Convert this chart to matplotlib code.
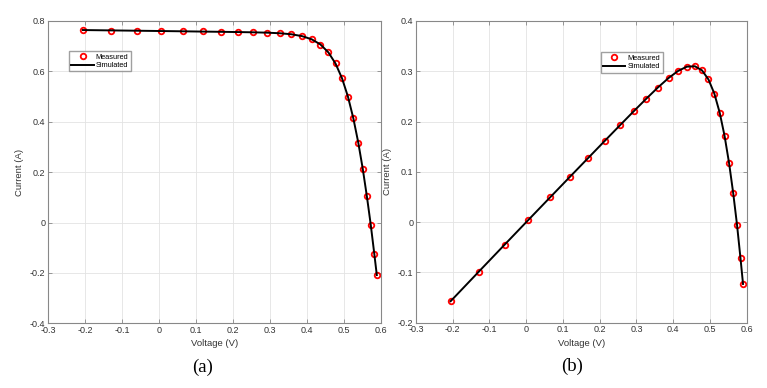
import matplotlib.pyplot as plt

plt.rcParams["font.family"] = ["Liberation Sans", "DejaVu Sans"]

voltage = [-0.2057, -0.1291, -0.0588, 0.0057, 0.0646, 0.1185, 0.1678, 0.2132,
           0.2545, 0.2924, 0.3269, 0.3585, 0.3873, 0.4137, 0.4373, 0.4590,
           0.4784, 0.4960, 0.5119, 0.5265, 0.5398, 0.5521, 0.5633, 0.5736,
           0.5833, 0.5900]
current_meas = [0.7640, 0.7620, 0.7605, 0.7605, 0.7600, 0.7590, 0.7570, 0.7570,
                0.7555, 0.7540, 0.7505, 0.7465, 0.7385, 0.7280, 0.7065, 0.6755,
                0.6320, 0.5730, 0.4990, 0.4130, 0.3165, 0.2120, 0.1035, -0.0100,
                -0.1230, -0.2100]
current_sim = [0.7641, 0.7627, 0.7614, 0.7602, 0.7591, 0.7580, 0.7571, 0.7561,
               0.7551, 0.7537, 0.7514, 0.7474, 0.7401, 0.7274, 0.7070, 0.6753,
               0.6308, 0.5720, 0.4996, 0.4136, 0.3175, 0.2121, 0.1022, -0.0087,
               -0.1255, -0.2084]

# panel (b) values
power_meas = [-0.1572, -0.0984, -0.0447, 0.0043, 0.0491, 0.0899, 0.1270, 0.1614,
              0.1923, 0.2205, 0.2453, 0.2676, 0.2860, 0.3012, 0.3090, 0.3101,
              0.3023, 0.2842, 0.2554, 0.2174, 0.1708, 0.1170, 0.0583, -0.0057,
              -0.0717, -0.1239]
power_sim = [-0.1572, -0.0985, -0.0448, 0.0043, 0.0490, 0.0898, 0.1270, 0.1612,
             0.1922, 0.2204, 0.2456, 0.2679, 0.2866, 0.3009, 0.3092, 0.3100,
             0.3018, 0.2837, 0.2557, 0.2178, 0.1714, 0.1171, 0.0576, -0.0050,
             -0.0732, -0.1230]

grey = "#888888"
txt = "#333333"

fig = plt.figure(figsize=(7.67, 3.88), dpi=100)
ax1 = fig.add_axes([48 / 767, 64.7 / 388, 332.5 / 767, 302.3 / 388])
ax2 = fig.add_axes([416 / 767, 65.3 / 388, 330.7 / 767, 301.7 / 388])


def style(ax, ylim, yticks):
    ax.set_xlim(-0.3, 0.6)
    ax.set_ylim(*ylim)
    ax.set_xticks([-0.3, -0.2, -0.1, 0, 0.1, 0.2, 0.3, 0.4, 0.5, 0.6])
    ax.set_xticklabels(["-0.3", "-0.2", "-0.1", "0", "0.1", "0.2", "0.3",
                        "0.4", "0.5", "0.6"])
    ax.set_yticks(yticks)
    ax.set_yticklabels([("%g" % t) for t in yticks])
    ax.grid(True, color="#e3e3e3", linewidth=0.6)
    ax.set_axisbelow(True)
    for s in ax.spines.values():
        s.set_color(grey)
        s.set_linewidth(0.8)
    ax.tick_params(direction="in", length=3, width=0.6, color=grey,
                   labelsize=6.5, labelcolor=txt, top=True, right=True, pad=2)
    ax.set_xlabel("Voltage (V)", fontsize=6.8, color=txt, labelpad=3)
    ax.set_ylabel("Current (A)", fontsize=6.8, color=txt, labelpad=4)


ax1.plot(voltage, current_meas, "o", mfc="none", mec="red", mew=1.3, ms=4,
         label="Measured")
ax1.plot(voltage, current_sim, "-", color="black", lw=1.4, label="Simulated")
style(ax1, (-0.4, 0.8), [-0.4, -0.2, 0, 0.2, 0.4, 0.6, 0.8])
ax1.legend(loc="upper left", bbox_to_anchor=(0.064, 0.9), fontsize=5.3,
           frameon=True, fancybox=False, edgecolor=grey, handlelength=3.0,
           handletextpad=0.3, borderpad=0.3, labelspacing=0.2,
           borderaxespad=0)

ax2.plot(voltage, power_meas, "o", mfc="none", mec="red", mew=1.3, ms=4,
         label="Measured")
ax2.plot(voltage, power_sim, "-", color="black", lw=1.4, label="Simulated")
style(ax2, (-0.2, 0.4), [-0.2, -0.1, 0, 0.1, 0.2, 0.3, 0.4])
ax2.legend(loc="upper left", bbox_to_anchor=(0.56, 0.896), fontsize=5.3,
           frameon=True, fancybox=False, edgecolor=grey, handlelength=3.0,
           handletextpad=0.3, borderpad=0.3, labelspacing=0.2,
           borderaxespad=0)

fig.text(203 / 767, 1 - 367 / 388, "(a)", fontsize=13.5,
         family="Liberation Serif", ha="center", va="center")
fig.text(572 / 767, 1 - 366 / 388, "(b)", fontsize=13.5,
         family="Liberation Serif", ha="center", va="center")

fig.savefig("out.png", dpi=100, facecolor="white")
